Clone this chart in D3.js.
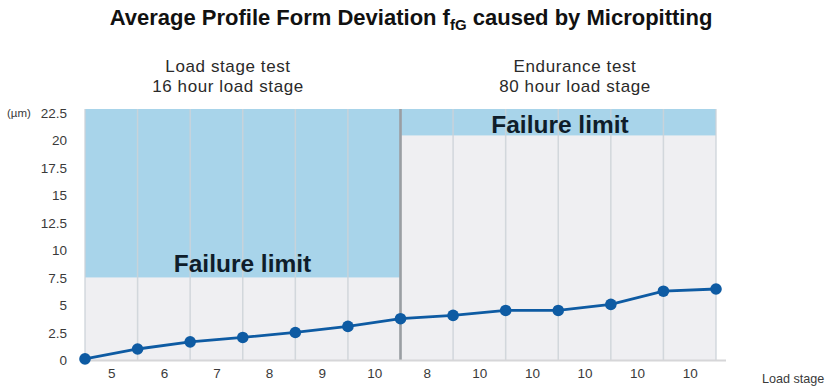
<!DOCTYPE html>
<html><head><meta charset="utf-8">
<script src="https://cdn.jsdelivr.net/npm/d3@7"></script>
<style>body{margin:0;background:#fff}svg{display:block}text{font-family:"Liberation Sans",Arial,sans-serif}</style>
</head><body><svg id="c" width="834" height="390"></svg>
<script>
const stageLabels = ["5","6","7","8","9","10","8","10","10","10","10","10"];
const deviation = [0.1, 1.0, 1.65, 2.05, 2.5, 3.05, 3.75, 4.05, 4.5, 4.5, 5.05, 6.25, 6.45];
const yTicks = [0, 2.5, 5, 7.5, 10, 12.5, 15, 17.5, 20, 22.5];
const phases = [
  {name1:"Load stage test", name2:"16 hour load stage", from:0, to:6, limit:7.5},
  {name1:"Endurance test", name2:"80 hour load stage", from:6, to:12, limit:20.4}
];

const svg = d3.select("#c");
const x = d3.scaleLinear().domain([0, 12]).range([85, 716]);
const y = d3.scaleLinear().domain([0, 22.8]).range([360, 109]);
const yTop = y(22.8), yBot = y(0);

// backgrounds
svg.append("rect").attr("x", x(0)).attr("y", yTop).attr("width", x(12)-x(0)).attr("height", yBot-yTop).attr("fill", "#efeff2");
phases.forEach(p => {
  svg.append("rect").attr("x", x(p.from)).attr("y", yTop)
    .attr("width", x(p.to)-x(p.from)).attr("height", y(p.limit)-yTop).attr("fill", "#a8d4ea");
});
// gridlines
svg.append("g").selectAll("line").data(d3.range(0, 13)).join("line")
  .attr("x1", d=>x(d)).attr("x2", d=>x(d)).attr("y1", yTop).attr("y2", yBot)
  .attr("stroke", "#cdd2d8").attr("stroke-width", 1.5)
  .attr("stroke-opacity", 0.85);
// divider
svg.append("line").attr("x1", x(6)).attr("x2", x(6)).attr("y1", yTop).attr("y2", yBot)
  .attr("stroke", "#9a9ea3").attr("stroke-width", 2.6);
// bottom axis line
svg.append("line").attr("x1", x(0)).attr("x2", x(12)+10).attr("y1", yBot+0.5).attr("y2", yBot+0.5)
  .attr("stroke", "#d6d6d8").attr("stroke-width", 2);

// Failure limit labels
svg.append("text").attr("x", 242.5).attr("y", 272).attr("text-anchor","middle")
  .attr("font-size", 24.5).attr("font-weight", 600).attr("fill", "#0f1d2a").text("Failure limit");
svg.append("text").attr("x", 560).attr("y", 133).attr("text-anchor","middle")
  .attr("font-size", 24.5).attr("font-weight", 600).attr("fill", "#0f1d2a").text("Failure limit");

// line + points
const line = d3.line().x((d,i)=>x(i)).y(d=>y(d));
svg.append("path").datum(deviation).attr("d", line).attr("fill","none")
  .attr("stroke", "#0e5ba3").attr("stroke-width", 2.8);
svg.append("g").selectAll("circle").data(deviation).join("circle")
  .attr("cx", (d,i)=>x(i)).attr("cy", d=>y(d)).attr("r", 5.8).attr("fill", "#0e5ba3");

// y axis labels
const yAxis = d3.axisLeft(y).tickValues(yTicks).tickSize(0).tickPadding(0).tickFormat(d=>String(d));
const ga = svg.append("g").attr("transform", "translate(67,0)").call(yAxis);
ga.select(".domain").remove();
ga.selectAll("text").attr("font-size", 13.5).attr("fill", "#3a3a3a").attr("font-family", '"Liberation Sans",Arial,sans-serif').attr("dy","0.35em");
svg.append("text").attr("x", 7).attr("y", 117).attr("font-size", 11.5).attr("fill", "#3a3a3a").text("(µm)");

// x labels between gridlines
const xa = d3.axisBottom(d3.scaleLinear().domain([0,12]).range([85,716]))
  .tickValues(d3.range(0.5, 12, 1)).tickSize(0).tickPadding(0).tickFormat((d,i)=>stageLabels[i]);
const gx = svg.append("g").attr("transform", "translate(0,373)").call(xa);
gx.select(".domain").remove();
gx.selectAll("text").attr("font-size", 13.5).attr("fill", "#3a3a3a").attr("font-family", '"Liberation Sans",Arial,sans-serif').attr("dy","0.35em");
svg.append("text").attr("x", 762).attr("y", 383).attr("font-size", 12.6).attr("fill", "#3a3a3a").text("Load stage");

// phase titles
const phaseX = [228, 575];
phases.forEach((p,i) => {
  svg.append("text").attr("x", phaseX[i]).attr("y", 72).attr("text-anchor","middle")
    .attr("font-size", 17).attr("letter-spacing", 0.6).attr("fill", "#2a2a2a").text(p.name1);
  svg.append("text").attr("x", phaseX[i]).attr("y", 92).attr("text-anchor","middle")
    .attr("font-size", 17).attr("letter-spacing", 0.6).attr("fill", "#2a2a2a").text(p.name2);
});

// title
const t = svg.append("text").attr("x", 411).attr("y", 25).attr("text-anchor","middle")
  .attr("font-size", 22).attr("font-weight", "bold").attr("fill", "#111");
t.append("tspan").text("Average Profile Form Deviation f");
t.append("tspan").attr("font-size", 15).attr("dy", 5).text("fG");
t.append("tspan").attr("dy", -5).text(" caused by Micropitting");
</script></body></html>
